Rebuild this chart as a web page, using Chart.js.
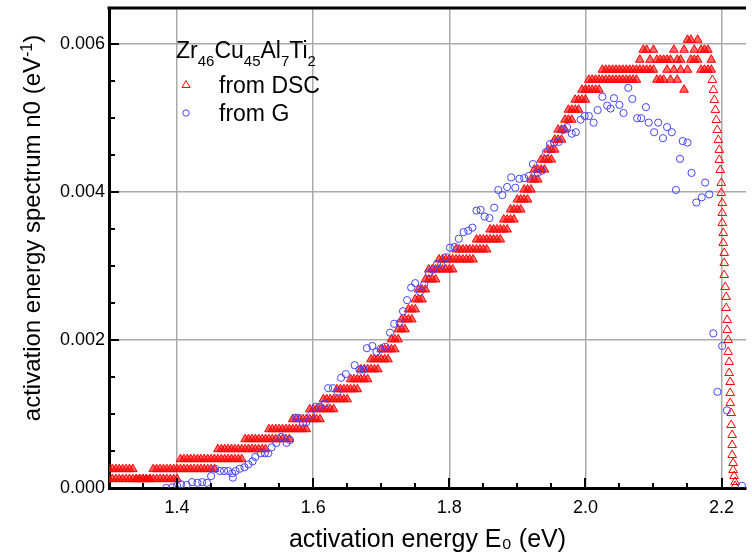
<!DOCTYPE html>
<html>
<head>
<meta charset="utf-8">
<script src="https://cdn.jsdelivr.net/npm/chart.js@4.4.0/dist/chart.umd.min.js"></script>
<style>
html, body { margin: 0; padding: 0; background: #fff; }
</style>
</head>
<body>
<canvas id="chart" width="752" height="555"></canvas>
<script>
// activation energy E0 (eV) for the DSC points
const dscE = [
  1.300,1.305,1.310,1.315,1.320,1.325,1.330,1.335,1.340,1.345,
  1.350,1.355,1.360,1.365,1.370,1.375,1.380,1.385,1.390,1.395,
  1.400,1.405,1.410,1.415,1.420,1.425,1.430,1.435,1.440,1.445,
  1.450,1.455,1.460,1.465,1.470,1.475,1.480,1.485,1.490,1.495,
  1.500,1.505,1.510,1.515,1.520,1.525,1.530,1.535,1.540,1.545,
  1.550,1.555,1.560,1.565,1.570,1.575,1.580,1.585,1.590,1.595,
  1.600,1.605,1.610,1.615,1.620,1.625,1.630,1.635,1.640,1.645,
  1.650,1.655,1.660,1.665,1.670,1.675,1.680,1.685,1.690,1.695,
  1.700,1.705,1.710,1.715,1.720,1.725,1.730,1.735,1.740,1.745,
  1.750,1.755,1.760,1.765,1.770,1.775,1.780,1.785,1.790,1.795,
  1.800,1.805,1.810,1.815,1.820,1.825,1.830,1.835,1.840,1.845,
  1.850,1.855,1.860,1.865,1.870,1.875,1.880,1.885,1.890,1.895,
  1.900,1.905,1.910,1.915,1.920,1.925,1.930,1.935,1.940,1.945,
  1.950,1.955,1.960,1.965,1.970,1.975,1.980,1.985,1.990,1.995,
  2.000,2.005,2.010,2.015,2.020,2.025,2.030,2.035,2.040,2.045,
  2.050,2.055,2.060,2.065,2.070,2.075,2.080,2.085,2.090,2.095,
  2.100,2.105,2.110,2.115,2.120,2.125,2.130,2.135,2.140,2.145,
  2.150,2.155,2.160,2.165,2.170,2.175,2.180,2.185
];
// lower band of the DSC spectrum (eV^-1)
const dscLow = [
  0.00012,0.00012,0.00012,0.00012,0.00012,0.00012,0.00012,0.00012,0.00012,0.00012,
  0.00012,0.00012,0.00012,0.00012,0.00012,0.00012,0.00012,0.00012,0.00012,0.00012,
  0.00012,0.000255,0.000255,0.000255,0.000255,0.000255,0.000255,0.000255,0.000255,0.000255,
  0.000255,0.000255,0.00039,0.00039,0.00039,0.00039,0.00039,0.00039,0.00039,0.00039,
  0.000525,0.000525,0.000525,0.000525,0.000525,0.000525,0.000525,0.00066,0.00066,0.00066,
  0.00066,0.00066,0.00066,0.00066,0.000795,0.000795,0.000795,0.000795,0.000795,0.00093,
  0.00093,0.00093,0.00093,0.001065,0.001065,0.001065,0.001065,0.0012,0.0012,0.0012,
  0.0012,0.001335,0.001335,0.001335,0.00147,0.00147,0.00147,0.001605,0.001605,0.001605,
  0.00174,0.00174,0.00174,0.001875,0.001875,0.00201,0.002145,0.002145,0.00228,0.00228,
  0.002415,0.00255,0.00255,0.002685,0.00282,0.00282,0.00282,0.002955,0.002955,0.002955,
  0.002955,0.002955,0.00309,0.00309,0.00309,0.00309,0.00309,0.00309,0.003225,0.003225,
  0.003225,0.003225,0.00336,0.00336,0.00336,0.00336,0.003495,0.003495,0.00363,0.00363,
  0.003765,0.003765,0.0039,0.0039,0.004035,0.00417,0.00417,0.004305,0.004305,0.00444,
  0.00444,0.004575,0.00471,0.00471,0.004845,0.00498,0.00498,0.005115,0.005115,0.00525,
  0.00525,0.005385,0.005385,0.005385,0.005385,0.00552,0.00552,0.00552,0.00552,0.00552,
  0.00552,0.00552,0.00552,0.00552,0.00552,0.00552,0.005655,0.005655,0.005655,0.005655,
  0.005655,0.00552,0.00552,0.00552,0.005655,0.00552,0.005655,0.00552,0.005655,0.005385,
  0.005655,0.00579,0.00579,0.00579,0.005655,0.005655,0.005655,0.005655
];
// upper band of the DSC spectrum (eV^-1)
const dscHigh = [
  0.000255,0.000255,0.000255,0.000255,0.000255,0.000255,0.000255,0.000255,0.00012,0.00012,
  0.00012,0.00012,0.00012,0.000255,0.000255,0.000255,0.000255,0.000255,0.000255,0.000255,
  0.000255,0.00039,0.00039,0.00039,0.00039,0.00039,0.00039,0.00039,0.00039,0.00039,
  0.00039,0.00039,0.000525,0.000525,0.000525,0.000525,0.000525,0.000525,0.000525,0.000525,
  0.00066,0.00066,0.00066,0.00066,0.00066,0.00066,0.00066,0.000795,0.000795,0.000795,
  0.000795,0.000795,0.000795,0.000795,0.00093,0.00093,0.00093,0.00093,0.00093,0.001065,
  0.001065,0.001065,0.001065,0.0012,0.0012,0.0012,0.0012,0.001335,0.001335,0.001335,
  0.001335,0.00147,0.00147,0.00147,0.001605,0.001605,0.001605,0.00174,0.00174,0.00174,
  0.001875,0.001875,0.001875,0.00201,0.00201,0.002145,0.00228,0.00228,0.002415,0.002415,
  0.00255,0.002685,0.002685,0.00282,0.002955,0.002955,0.002955,0.00309,0.00309,0.00309,
  0.00309,0.00309,0.003225,0.003225,0.003225,0.003225,0.003225,0.003225,0.00336,0.00336,
  0.00336,0.00336,0.003495,0.003495,0.003495,0.003495,0.00363,0.00363,0.003765,0.003765,
  0.0039,0.0039,0.004035,0.004035,0.00417,0.004305,0.004305,0.00444,0.00444,0.004575,
  0.004575,0.00471,0.004845,0.004845,0.00498,0.005115,0.005115,0.00525,0.00525,0.005385,
  0.005385,0.00552,0.00552,0.00552,0.00552,0.005655,0.005655,0.005655,0.005655,0.005655,
  0.005655,0.005655,0.005655,0.005655,0.005655,0.005655,0.00579,0.005925,0.005925,0.00579,
  0.005925,0.00579,0.00579,0.00579,0.00579,0.00579,0.005925,0.00579,0.00579,0.005925,
  0.00606,0.00606,0.005925,0.00606,0.005925,0.005925,0.005925,0.00579
];
// steep fall of the DSC spectrum near 2.2 eV
const tailE = [
  2.1866,2.1881,2.1895,2.191,2.1924,2.1939,2.1953,2.1968,2.1968,2.1982,
  2.1997,2.1997,2.2011,2.2011,2.2011,2.2026,2.2026,2.204,2.204,2.204,
  2.2055,2.2069,2.2069,2.2084,2.2084,2.2098,2.2098,2.2113,2.2113,2.2128,
  2.2128,2.2128,2.2142,2.2142,2.2157,2.2157,2.2157,2.2171,2.2171,2.2186,
  2.22,2.22
];
const tailN = [
  0.005517,0.005382,0.005247,0.005112,0.004976,0.004841,0.004706,0.004571,0.004436,0.0043,
  0.004125,0.003989,0.003854,0.003719,0.003584,0.003448,0.003313,0.003178,0.003043,0.00288,
  0.002718,0.002583,0.002434,0.002272,0.002137,0.002002,0.00184,0.001704,0.001555,0.001433,
  0.001285,0.00115,0.001014,0.000852,0.000717,0.000581,0.000446,0.000338,0.000243,0.000162,
  0.000081,0.000027
];
// spectrum obtained from G
const gE = [
  1.384,1.393,1.400,1.406,1.414,1.422,1.430,1.437,1.444,1.450,
  1.456,1.463,1.469,1.475,1.481,1.482,1.486,1.492,1.499,1.505,
  1.511,1.515,1.523,1.529,1.534,1.539,1.546,1.553,1.561,1.566,
  1.574,1.578,1.585,1.590,1.597,1.604,1.610,1.617,1.622,1.629,
  1.636,1.641,1.648,1.661,1.668,1.674,1.679,1.687,1.693,1.699,
  1.706,1.713,1.719,1.727,1.732,1.738,1.744,1.750,1.757,1.763,
  1.770,1.776,1.782,1.788,1.795,1.801,1.808,1.814,1.821,1.828,
  1.834,1.840,1.846,1.852,1.859,1.866,1.872,1.878,1.885,1.891,
  1.897,1.903,1.910,1.917,1.923,1.930,1.936,1.942,1.948,1.954,
  1.961,1.967,1.973,1.980,1.986,1.993,1.999,2.005,2.012,2.018,
  2.025,2.032,2.037,2.042,2.050,2.056,2.063,2.069,2.076,2.082,
  2.089,2.093,2.101,2.107,2.114,2.120,2.127,2.133,2.139,2.143,
  2.150,2.156,2.163,2.171,2.176,2.182,2.188,2.194,2.201,2.208,
  2.230
];
const gN = [
  0.0,0.00001,0.00003,0.00005,0.00004,0.00008,0.00007,0.00008,0.00007,0.00016,
  0.00026,0.00023,0.00023,0.00023,0.0002,0.00014,0.00023,0.00026,0.00028,0.00032,
  0.00036,0.00042,0.00047,0.00047,0.00047,0.00055,0.00061,0.00069,0.00061,0.00065,
  0.00095,0.00095,0.00088,0.00089,0.00099,0.0011,0.0011,0.00114,0.00135,0.00135,
  0.0013,0.00149,0.00154,0.00166,0.0016,0.0016,0.00189,0.00192,0.00184,0.00188,
  0.00191,0.0021,0.00222,0.00223,0.00239,0.00254,0.00271,0.00277,0.00265,0.00275,
  0.00291,0.00295,0.00303,0.00302,0.00312,0.00325,0.00326,0.00337,0.00346,0.00348,
  0.00352,0.00375,0.00376,0.00367,0.00365,0.00379,0.00403,0.00396,0.00407,0.0042,
  0.00406,0.00418,0.00419,0.00422,0.00438,0.00426,0.00429,0.00454,0.00465,0.00467,
  0.00468,0.00484,0.00488,0.00479,0.00481,0.00498,0.00503,0.00503,0.00494,0.00511,
  0.00529,0.00517,0.00513,0.00527,0.00518,0.00507,0.00541,0.00526,0.005,0.005,
  0.00515,0.00494,0.00481,0.00494,0.00473,0.00488,0.00481,0.00403,0.00445,0.00469,
  0.00467,0.00426,0.00386,0.00393,0.00413,0.00397,0.00209,0.0013,0.00192,0.00105,
  0.00003
];

const xTicks = [1.4, 1.6, 1.8, 2.0, 2.2];
const yTicks = [0, 0.002, 0.004, 0.006];

const FONT = "'Liberation Sans', Arial, sans-serif";
const RED = '#ff0000';
const BLUE = '#4444ff';

// Punkte zusammenbauen
const bandPoints = [];
dscE.forEach((e, i) => {
    bandPoints.push({ x: e, y: dscLow[i] });
    bandPoints.push({ x: e, y: dscHigh[i] });
});
const tailPoints = tailE.map((e, i) => ({ x: e, y: tailN[i] }));
const gPoints = gE.map((e, i) => ({ x: e, y: gN[i] }));

// Text mit Hoch-/Tiefstellung zeichnen
function drawRich(ctx, parts, x, y, big, small) {
    let tx = x;
    parts.forEach(([t, shift]) => {
        ctx.font = (shift ? small : big) + 'px ' + FONT;
        ctx.fillText(t, tx, y + shift);
        tx += ctx.measureText(t).width;
    });
    return tx - x;
}
function richWidth(ctx, parts, big, small) {
    let w = 0;
    parts.forEach(([t, shift]) => {
        ctx.font = (shift ? small : big) + 'px ' + FONT;
        w += ctx.measureText(t).width;
    });
    return w;
}

// Rahmen oben, kleine Striche nach innen, Achsentitel y, Legende
const framePlugin = {
    id: 'frame',
    afterDraw(chart) {
        const { ctx, chartArea: a, scales } = chart;
        const xs = scales.x, ys = scales.y;
        ctx.save();
        ctx.strokeStyle = '#000';
        ctx.lineWidth = 3;
        ctx.beginPath();
        ctx.moveTo(a.left - 1.5, a.top);
        ctx.lineTo(a.right, a.top);
        ctx.stroke();

        ctx.lineWidth = 2;
        for (let k = 27; k * 0.05 <= xs.max; k++) {
            const px = Math.round(xs.getPixelForValue(k * 0.05));
            const len = (k % 4 === 0) ? 10 : 5;
            ctx.beginPath();
            ctx.moveTo(px, a.bottom);
            ctx.lineTo(px, a.bottom - len);
            ctx.stroke();
        }
        for (let k = 1; k * 0.0005 <= ys.max; k++) {
            const py = Math.round(ys.getPixelForValue(k * 0.0005));
            const len = (k % 4 === 0) ? 10 : 6;
            ctx.beginPath();
            ctx.moveTo(a.left, py);
            ctx.lineTo(a.left + len, py);
            ctx.stroke();
        }

        ctx.fillStyle = '#000';
        ctx.textBaseline = 'alphabetic';
        ctx.textAlign = 'left';

        // y-Achsentitel
        const yTitle = [['activation energy spectrum n0 (eV', 0], ['-1', -8], [')', 0]];
        const w = richWidth(ctx, yTitle, 24, 16);
        ctx.save();
        ctx.translate(40, 228);
        ctx.rotate(-Math.PI / 2);
        drawRich(ctx, yTitle, -w / 2, 0, 24, 16);
        ctx.restore();

        // Legende
        const formula = [['Zr', 0], ['46', 8], ['Cu', 0], ['45', 8], ['Al', 0], ['7', 8], ['Ti', 0], ['2', 8]];
        drawRich(ctx, formula, 176, 58, 23, 15);
        ctx.font = '23px ' + FONT;
        ctx.fillText('from DSC', 219, 93);
        ctx.fillText('from G', 219, 121);

        ctx.lineWidth = 1;
        ctx.strokeStyle = RED;
        ctx.beginPath();
        ctx.moveTo(186, 80.5);
        ctx.lineTo(190, 87.5);
        ctx.lineTo(182, 87.5);
        ctx.closePath();
        ctx.stroke();
        ctx.strokeStyle = BLUE;
        ctx.beginPath();
        ctx.arc(186, 113, 3.2, 0, Math.PI * 2);
        ctx.stroke();
        ctx.restore();
    }
};

const ctx = document.getElementById('chart').getContext('2d');
new Chart(ctx, {
    type: 'scatter',
    data: {
        datasets: [
            {
                label: 'from DSC',
                data: bandPoints,
                pointStyle: 'triangle',
                pointRadius: 5,
                borderColor: RED,
                backgroundColor: 'rgba(255,0,0,0.6)',
                borderWidth: 1,
                order: 3
            },
            {
                label: 'from DSC (fall)',
                data: tailPoints,
                pointStyle: 'triangle',
                pointRadius: 5,
                borderColor: RED,
                backgroundColor: 'rgba(0,0,0,0)',
                borderWidth: 1,
                order: 2
            },
            {
                label: 'from G',
                data: gPoints,
                pointStyle: 'circle',
                pointRadius: 3.6,
                borderColor: BLUE,
                backgroundColor: 'rgba(0,0,0,0)',
                borderWidth: 1,
                order: 1
            }
        ]
    },
    options: {
        responsive: false,
        animation: false,
        devicePixelRatio: 1,
        layout: { padding: { top: 8, right: 0, left: 0, bottom: 0 } },
        scales: {
            x: {
                type: 'linear',
                min: 1.3,
                max: 2.236,
                afterBuildTicks: s => { s.ticks = xTicks.map(v => ({ value: v })); },
                afterFit: s => { s.height = 67; s.paddingLeft = 0; s.paddingRight = 0; },
                grid: { color: '#aaaaaa', lineWidth: 1.5, drawTicks: false },
                border: { color: '#000', width: 3 },
                ticks: {
                    padding: 9,
                    color: '#000',
                    font: { family: FONT, size: 18 },
                    maxRotation: 0,
                    callback: v => v.toFixed(1)
                },
                title: {
                    display: true,
                    text: 'activation energy E₀ (eV)',
                    color: '#000',
                    font: { family: FONT, size: 25 },
                    padding: { top: 0, bottom: 0 }
                }
            },
            y: {
                type: 'linear',
                min: 0,
                max: 0.00649,
                afterBuildTicks: s => { s.ticks = yTicks.map(v => ({ value: v })); },
                afterFit: s => { s.width = 109; s.paddingTop = 0; s.paddingBottom = 0; },
                grid: { color: '#aaaaaa', lineWidth: 1.5, drawTicks: false },
                border: { color: '#000', width: 3 },
                ticks: {
                    padding: 4,
                    color: '#000',
                    font: { family: FONT, size: 18 },
                    callback: v => v.toFixed(3)
                },
                title: { display: false }
            }
        },
        plugins: {
            legend: { display: false },
            tooltip: { enabled: false }
        }
    },
    plugins: [framePlugin]
});
</script>
</body>
</html>
